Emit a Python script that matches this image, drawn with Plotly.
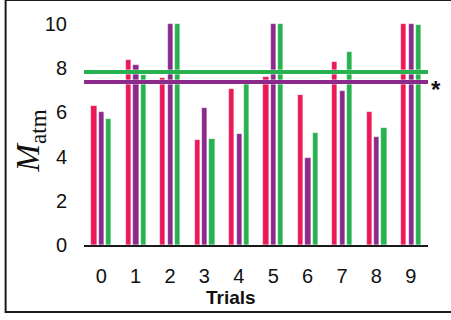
import plotly.graph_objects as go

# Trial numbers and the three measured series
trials = ["0", "1", "2", "3", "4", "5", "6", "7", "8", "9"]
series_a = [6.28, 8.37, 7.56, 4.74, 7.05, 7.59, 6.79, 8.28, 6.01, 10.0]
series_b = [6.04, 8.13, 10.0, 6.20, 5.03, 10.0, 3.92, 6.99, 4.89, 10.0]
series_c = [5.71, 7.68, 10.0, 4.80, 7.33, 10.0, 5.05, 8.72, 5.30, 9.97]

# Reference levels drawn across the plot
level_c = 7.83
level_b = 7.38

RED = "#EC1857"
PURPLE = "#8B2A8B"
GREEN = "#27B24F"

W, H = 451, 320
ML, MR, MT, MB = 83.5, 23, 13, 74.7
PW, PH = W - ML - MR, H - MT - MB
Y_MAX = 10.5


def px_to_paper_x(px):
    return (px - ML) / PW


def px_to_paper_y(py):
    return (H - MB - py) / PH


fig = go.Figure()

bar_w = 0.15
for vals, color, centre in ((series_a, RED, -0.21),
                            (series_b, PURPLE, 0.01),
                            (series_c, GREEN, 0.22)):
    fig.add_trace(go.Bar(
        x=list(range(len(trials))), y=vals,
        width=bar_w, offset=centre - bar_w / 2,
        marker=dict(color=color, line=dict(color="rgba(255,255,255,0.5)", width=0.5)),
        showlegend=False,
    ))

# horizontal reference lines with a faint light edge
for lvl, color in ((level_c, GREEN), (level_b, PURPLE)):
    fig.add_shape(type="line", xref="paper", yref="y", x0=0.0, x1=1.0,
                  y0=lvl, y1=lvl, line=dict(color="rgba(255,255,255,0.7)", width=5),
                  layer="above")
    fig.add_shape(type="line", xref="paper", yref="y", x0=0.0, x1=1.0,
                  y0=lvl, y1=lvl, line=dict(color=color, width=4), layer="above")

# outer frame
fig.add_shape(type="rect", xref="paper", yref="paper",
              x0=px_to_paper_x(5), x1=px_to_paper_x(470),
              y0=px_to_paper_y(312.5), y1=px_to_paper_y(0),
              line=dict(color="#1a1a1a", width=2), fillcolor="rgba(0,0,0,0)",
              layer="below")

fig.add_annotation(text="<b>*</b>", xref="paper", yref="y", x=px_to_paper_x(436), y=level_b,
                   showarrow=False, xanchor="center", yanchor="middle", yshift=-8,
                   font=dict(family="Liberation Sans, Arial, sans-serif", size=24, color="#111"))

fig.add_annotation(text="<i>M</i><sub>atm</sub>", xref="paper", yref="paper",
                   x=px_to_paper_x(30), y=px_to_paper_y(141), textangle=-90,
                   showarrow=False, xanchor="center", yanchor="middle",
                   font=dict(family="Liberation Serif, Times New Roman, serif", size=33, color="#111"))

fig.add_annotation(text="<b>Trials</b>", xref="paper", yref="paper",
                   x=px_to_paper_x(231), y=px_to_paper_y(297.5),
                   showarrow=False, xanchor="center", yanchor="middle",
                   font=dict(family="Liberation Sans, Arial, sans-serif", size=19, color="#111"))

fig.update_layout(
    width=W, height=H,
    margin=dict(l=ML, r=MR, t=MT, b=MB, pad=0),
    paper_bgcolor="white", plot_bgcolor="white",
    bargap=0, barmode="overlay",
    font=dict(family="Liberation Sans, Arial, sans-serif", size=20, color="#111"),
)
fig.update_xaxes(
    range=[-0.5, 9.5], tickmode="array", tickvals=list(range(len(trials))), ticktext=trials,
    showgrid=False, zeroline=False, showline=True, linecolor="#1a1a1a", linewidth=1.5,
    ticks="", ticklabelstandoff=12,
)
fig.update_yaxes(
    range=[0, Y_MAX], tickvals=[0, 2, 4, 6, 8, 10],
    showgrid=False, zeroline=False, showline=False, ticks="", ticklabelstandoff=16,
)

fig.write_html("out.html")
